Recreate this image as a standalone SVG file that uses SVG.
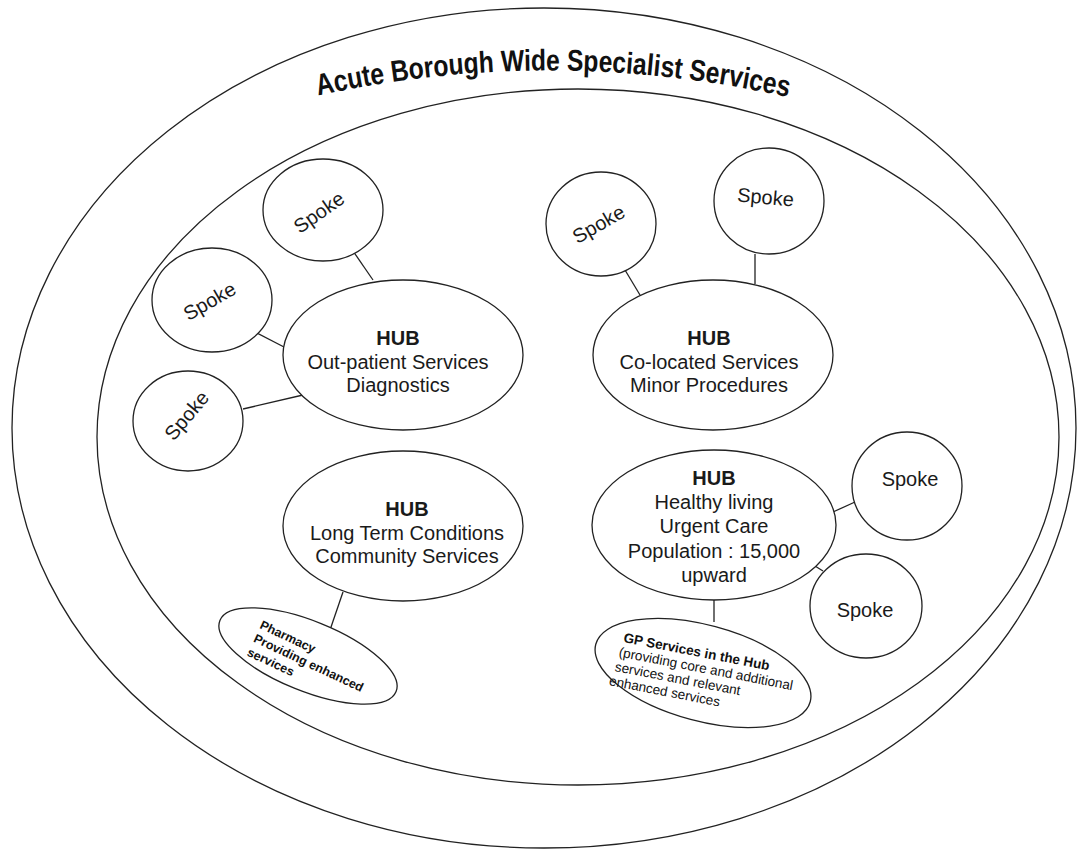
<svg xmlns="http://www.w3.org/2000/svg" width="1078" height="849" viewBox="0 0 1078 849">
<style>
.sh{fill:#fff;stroke:#222;stroke-width:1.3}
.ln{stroke:#222;stroke-width:1.3;fill:none}
.t{font-family:"Liberation Sans",Arial,sans-serif;font-size:20px;fill:#1a1a1a;text-anchor:middle}
.b{font-weight:bold}
.sm{font-family:"Liberation Sans",Arial,sans-serif;font-size:12.5px;fill:#111}
.gp{font-family:"Liberation Sans",Arial,sans-serif;font-size:13.5px;fill:#111}
.title{font-family:"Liberation Sans Narrow","Liberation Sans",Arial,sans-serif;font-size:30px;font-weight:bold;fill:#111}
</style>
<defs>
<path id="arc" d="M 316,96 Q 553,44 792,98"/>
</defs>
<rect width="1078" height="849" fill="#fff"/>
<g id="outer">
<ellipse class="sh" cx="544" cy="428" rx="532" ry="420"/>
<text class="title"><textPath href="#arc" startOffset="2" textLength="474" lengthAdjust="spacingAndGlyphs">Acute Borough Wide Specialist Services</textPath></text>
</g>
<g id="inner">
<ellipse class="sh" cx="578" cy="437" rx="481" ry="348"/>
</g>
<g id="connectors">
<line class="ln" x1="353" y1="251" x2="373" y2="280"/>
<line class="ln" x1="253" y1="331" x2="284" y2="347"/>
<line class="ln" x1="243" y1="409" x2="303" y2="395"/>
<line class="ln" x1="625" y1="270" x2="640" y2="295"/>
<line class="ln" x1="755" y1="254" x2="755" y2="284"/>
<line class="ln" x1="343" y1="592" x2="330" y2="630"/>
<line class="ln" x1="833" y1="512" x2="855" y2="502"/>
<line class="ln" x1="815" y1="566" x2="823" y2="571"/>
<line class="ln" x1="714" y1="600" x2="714" y2="622"/>
</g>
<g id="hub1">
<ellipse class="sh" cx="403" cy="355" rx="120" ry="75"/>
<text class="t b" x="398" y="345">HUB</text>
<text class="t" x="398" y="369">Out-patient Services</text>
<text class="t" x="398" y="392">Diagnostics</text>
</g>
<g id="spoke1a">
<ellipse class="sh" cx="323" cy="210" rx="60" ry="51"/>
<text class="t" transform="translate(323,218) rotate(-35)">Spoke</text>
</g>
<g id="spoke1b">
<ellipse class="sh" cx="212" cy="300" rx="60" ry="52"/>
<text class="t" transform="translate(213,307) rotate(-30)">Spoke</text>
</g>
<g id="spoke1c">
<ellipse class="sh" cx="188" cy="421" rx="55" ry="50"/>
<text class="t" transform="translate(192,420) rotate(-50)">Spoke</text>
</g>
<g id="hub2">
<ellipse class="sh" cx="713" cy="355" rx="120" ry="75"/>
<text class="t b" x="709" y="345">HUB</text>
<text class="t" x="709" y="369">Co-located Services</text>
<text class="t" x="709" y="392">Minor Procedures</text>
</g>
<g id="spoke2a">
<ellipse class="sh" cx="601" cy="224" rx="55" ry="52"/>
<text class="t" transform="translate(602,230) rotate(-30)">Spoke</text>
</g>
<g id="spoke2b">
<ellipse class="sh" cx="769" cy="201" rx="55" ry="53"/>
<text class="t" transform="translate(765,204) rotate(5)">Spoke</text>
</g>
<g id="hub3">
<ellipse class="sh" cx="403" cy="526" rx="120" ry="75"/>
<text class="t b" x="407" y="516">HUB</text>
<text class="t" x="407" y="540">Long Term Conditions</text>
<text class="t" x="407" y="563">Community Services</text>
</g>
<g id="pharmacy">
<ellipse class="sh" cx="308" cy="656" rx="95" ry="35" transform="rotate(22 308 656)"/>
<g transform="translate(259,628) rotate(25)">
<text class="sm b" x="0" y="0">Pharmacy</text>
<text class="sm b" x="0" y="15">Providing enhanced</text>
<text class="sm b" x="0" y="30">services</text>
</g>
</g>
<g id="hub4">
<ellipse class="sh" cx="714" cy="525" rx="122" ry="75"/>
<text class="t b" x="714" y="485">HUB</text>
<text class="t" x="714" y="509">Healthy living</text>
<text class="t" x="714" y="533">Urgent Care</text>
<text class="t" x="714" y="558">Population : 15,000</text>
<text class="t" x="714" y="582">upward</text>
</g>
<g id="spoke4a">
<ellipse class="sh" cx="907" cy="486" rx="55" ry="54"/>
<text class="t" x="910" y="486">Spoke</text>
</g>
<g id="spoke4b">
<ellipse class="sh" cx="866" cy="606" rx="56" ry="52"/>
<text class="t" x="865" y="617">Spoke</text>
</g>
<g id="gp">
<ellipse class="sh" cx="703" cy="673" rx="111" ry="48" transform="rotate(15 703 673)"/>
<g transform="translate(623,642) rotate(11)">
<text class="gp b" x="0" y="0">GP Services in the Hub</text>
<text class="gp" x="-2" y="15">(providing core and additional</text>
<text class="gp" x="-3" y="30">services and relevant</text>
<text class="gp" x="-6" y="45">enhanced services</text>
</g>
</g>
</svg>
